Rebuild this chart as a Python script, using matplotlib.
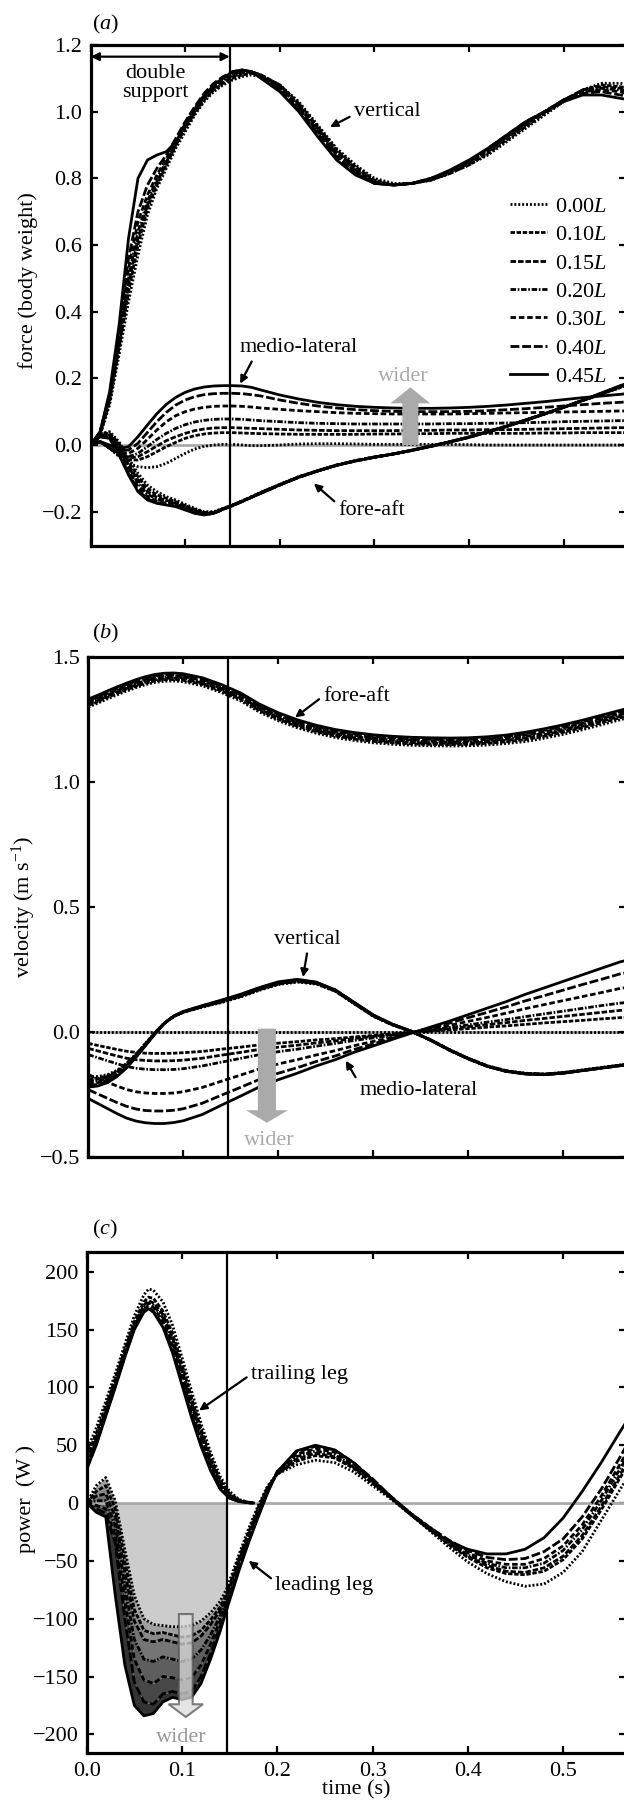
import numpy as np
import matplotlib
matplotlib.use('Agg')
import matplotlib.pyplot as plt
from matplotlib.patches import FancyArrow

plt.rcParams['font.family'] = ['Liberation Serif', 'DejaVu Serif']
plt.rcParams['mathtext.fontset'] = 'custom'
plt.rcParams['mathtext.rm'] = 'Liberation Serif'
plt.rcParams['mathtext.it'] = 'Liberation Serif:italic'

# step widths (fraction of leg length)
widths = ['0.00', '0.10', '0.15', '0.20', '0.30', '0.40', '0.45']
ds_end = 0.147  # end of double support (s)

# ---- (a) ground reaction force, body weight
t_a = [0, .01, .02, .03, .04, .05, .06, .07, .08, .09, .10, .11, .12, .13, .14, .15, .16, .17, .18,
       .20, .22, .24, .26, .28, .30, .32, .34, .36, .38, .40, .42, .44, .46, .48, .50, .52, .54, .56, .57]

force_vert = [
    [0, .03, .12, .27, .43, .57, .69, .77, .83, .89, .94, .99, 1.03, 1.06, 1.08, 1.095, 1.105, 1.11, 1.105,
     1.08, 1.03, .96, .89, .84, .80, .785, .785, .795, .815, .84, .87, .91, .95, .99, 1.03, 1.065, 1.085, 1.085, 1.08],
    [0, .03, .13, .29, .46, .60, .71, .78, .84, .90, .95, .995, 1.035, 1.065, 1.085, 1.10, 1.11, 1.115, 1.11,
     1.08, 1.025, .955, .885, .835, .795, .78, .785, .795, .815, .84, .875, .915, .955, .995, 1.03, 1.065, 1.08, 1.075, 1.07],
    [0, .035, .14, .30, .48, .62, .72, .79, .845, .90, .955, 1.0, 1.04, 1.07, 1.09, 1.105, 1.115, 1.12, 1.11,
     1.08, 1.02, .95, .88, .83, .79, .78, .785, .795, .815, .845, .88, .92, .96, 1.0, 1.035, 1.065, 1.075, 1.07, 1.065],
    [0, .035, .14, .31, .50, .64, .73, .80, .85, .905, .96, 1.005, 1.045, 1.075, 1.095, 1.11, 1.12, 1.12, 1.11,
     1.075, 1.015, .945, .875, .825, .79, .78, .785, .795, .82, .85, .885, .925, .965, 1.0, 1.035, 1.06, 1.07, 1.065, 1.06],
    [0, .04, .15, .33, .53, .67, .75, .81, .86, .91, .965, 1.01, 1.05, 1.08, 1.10, 1.115, 1.12, 1.12, 1.105,
     1.07, 1.01, .94, .87, .82, .785, .78, .785, .80, .82, .85, .885, .925, .965, 1.0, 1.035, 1.06, 1.065, 1.06, 1.05],
    [0, .04, .15, .34, .56, .70, .78, .83, .87, .92, .97, 1.015, 1.055, 1.085, 1.105, 1.12, 1.125, 1.12, 1.105,
     1.065, 1.005, .935, .865, .815, .785, .78, .785, .80, .82, .85, .89, .93, .97, 1.0, 1.035, 1.055, 1.06, 1.05, 1.045],
    [0, .04, .16, .36, .62, .80, .855, .87, .88, .91, .96, 1.005, 1.045, 1.08, 1.10, 1.12, 1.125, 1.12, 1.10,
     1.06, 1.0, .925, .855, .81, .785, .78, .785, .80, .825, .855, .89, .93, .97, 1.0, 1.03, 1.05, 1.05, 1.04, 1.035],
]

force_fore = [
    [0, .035, .04, .01, -.04, -.085, -.12, -.14, -.155, -.165, -.178, -.19, -.2, -.2, -.19, -.18, -.168, -.155, -.142,
     -.118, -.095, -.077, -.06, -.047, -.036, -.027, -.015, -.003, .01, .024, .04, .057, .075, .094, .113, .133, .152, .172, .182],
    [0, .035, .035, .005, -.05, -.095, -.13, -.15, -.16, -.17, -.182, -.193, -.202, -.202, -.191, -.18, -.168, -.155, -.142,
     -.118, -.095, -.077, -.06, -.047, -.036, -.027, -.015, -.003, .01, .024, .04, .057, .075, .094, .113, .133, .153, .173, .183],
    [0, .03, .03, 0, -.06, -.105, -.14, -.157, -.166, -.174, -.185, -.196, -.204, -.203, -.191, -.18, -.168, -.156, -.143,
     -.119, -.096, -.077, -.06, -.047, -.036, -.027, -.015, -.003, .01, .024, .04, .057, .075, .094, .113, .133, .153, .174, .184],
    [0, .03, .03, -.01, -.065, -.115, -.148, -.162, -.17, -.177, -.188, -.199, -.206, -.204, -.192, -.181, -.169, -.156, -.143,
     -.119, -.096, -.078, -.061, -.047, -.036, -.027, -.016, -.003, .01, .024, .04, .057, .075, .094, .113, .134, .154, .175, .185],
    [0, .03, .025, -.02, -.075, -.125, -.155, -.168, -.175, -.181, -.191, -.202, -.208, -.205, -.193, -.181, -.169, -.157, -.144,
     -.12, -.097, -.078, -.061, -.048, -.037, -.027, -.016, -.004, .009, .023, .039, .056, .074, .093, .113, .134, .155, .176, .186],
    [0, .025, .02, -.025, -.085, -.135, -.162, -.172, -.178, -.183, -.193, -.204, -.209, -.205, -.193, -.182, -.17, -.157, -.145,
     -.12, -.097, -.078, -.061, -.048, -.037, -.027, -.016, -.004, .009, .023, .039, .056, .074, .093, .113, .134, .155, .177, .187],
    [0, .025, .02, -.03, -.09, -.14, -.165, -.175, -.18, -.185, -.195, -.205, -.21, -.205, -.193, -.182, -.17, -.157, -.145,
     -.12, -.097, -.078, -.061, -.048, -.037, -.027, -.016, -.004, .009, .023, .039, .056, .074, .093, .113, .134, .156, .178, .188],
]

force_ml = [
    [0, .01, -.01, -.035, -.055, -.065, -.068, -.065, -.055, -.04, -.025, -.012, -.004, 0, .002, .002, 0, -.002, -.002,
     0, .003, .004, .004, .003, .002, .002, .002, .002, .002, .001, 0, 0, 0, 0, 0, 0, 0, 0, 0],
    [0, .01, -.01, -.03, -.045, -.045, -.035, -.02, -.005, .008, .02, .028, .033, .036, .037, .037, .036, .035, .034,
     .033, .032, .032, .032, .032, .033, .033, .034, .034, .035, .035, .035, .035, .035, .036, .036, .037, .037, .037, .037],
    [0, .01, -.01, -.03, -.04, -.035, -.02, -.003, .013, .025, .035, .043, .048, .051, .052, .052, .051, .05, .049,
     .047, .045, .044, .043, .043, .043, .043, .044, .044, .045, .045, .046, .046, .047, .048, .049, .05, .051, .052, .052],
    [0, .01, -.008, -.025, -.035, -.025, -.005, .017, .035, .05, .061, .069, .074, .077, .078, .078, .077, .075, .073,
     .07, .067, .065, .064, .063, .063, .063, .063, .063, .064, .064, .065, .066, .067, .068, .07, .071, .072, .073, .073],
    [0, .01, -.005, -.02, -.025, -.01, .017, .045, .07, .088, .1, .108, .113, .116, .117, .117, .116, .114, .111,
     .107, .103, .1, .097, .095, .094, .093, .093, .093, .093, .094, .095, .096, .097, .098, .099, .1, .101, .102, .102],
    [0, .01, -.003, -.015, -.015, .005, .038, .07, .098, .12, .135, .145, .151, .154, .155, .155, .154, .151, .147,
     .135, .125, .117, .111, .106, .103, .101, .1, .1, .1, .101, .103, .106, .109, .113, .117, .121, .125, .128, .13],
    [0, .01, 0, -.01, -.005, .025, .06, .094, .122, .143, .158, .168, .174, .177, .178, .178, .177, .173, .165,
     .15, .138, .128, .121, .116, .113, .111, .11, .11, .111, .113, .116, .12, .125, .13, .136, .142, .147, .152, .155],
]

# ---- (b) centre of mass velocity, m/s
t_b = [0, .01, .02, .03, .04, .05, .06, .07, .08, .09, .10, .12, .14, .16, .18, .20, .22, .24, .26, .28,
       .30, .32, .34, .36, .38, .40, .42, .44, .46, .48, .50, .52, .54, .56, .57]

vel_fore = [
    [1.299, 1.314, 1.331, 1.347, 1.362, 1.376, 1.388, 1.397, 1.402, 1.403, 1.400, 1.384, 1.357, 1.324, 1.279, 1.244, 1.216, 1.194,
     1.177, 1.165, 1.156, 1.150, 1.146, 1.144, 1.143, 1.144, 1.147, 1.153, 1.161, 1.174, 1.190, 1.208, 1.228, 1.248, 1.258],
    [1.305, 1.32, 1.337, 1.353, 1.368, 1.382, 1.394, 1.403, 1.408, 1.409, 1.406, 1.39, 1.363, 1.33, 1.285, 1.25, 1.222, 1.2,
     1.183, 1.171, 1.162, 1.156, 1.152, 1.15, 1.149, 1.15, 1.154, 1.16, 1.169, 1.182, 1.198, 1.216, 1.236, 1.256, 1.266],
    [1.31, 1.325, 1.342, 1.358, 1.373, 1.387, 1.399, 1.408, 1.413, 1.414, 1.411, 1.395, 1.368, 1.335, 1.29, 1.255, 1.227, 1.205,
     1.188, 1.176, 1.167, 1.161, 1.157, 1.155, 1.154, 1.155, 1.159, 1.166, 1.175, 1.188, 1.204, 1.222, 1.242, 1.262, 1.272],
    [1.315, 1.33, 1.347, 1.363, 1.378, 1.392, 1.404, 1.413, 1.418, 1.419, 1.416, 1.4, 1.373, 1.34, 1.295, 1.26, 1.232, 1.21,
     1.193, 1.181, 1.172, 1.166, 1.162, 1.16, 1.159, 1.16, 1.164, 1.171, 1.181, 1.194, 1.21, 1.228, 1.248, 1.268, 1.278],
    [1.32, 1.335, 1.352, 1.368, 1.383, 1.397, 1.409, 1.418, 1.423, 1.424, 1.421, 1.405, 1.378, 1.345, 1.3, 1.265, 1.237, 1.215,
     1.198, 1.186, 1.177, 1.171, 1.167, 1.165, 1.164, 1.165, 1.169, 1.176, 1.187, 1.2, 1.216, 1.234, 1.254, 1.274, 1.284],
    [1.325, 1.34, 1.357, 1.373, 1.388, 1.402, 1.414, 1.423, 1.428, 1.429, 1.426, 1.41, 1.383, 1.35, 1.305, 1.27, 1.242, 1.22,
     1.203, 1.191, 1.182, 1.176, 1.172, 1.17, 1.169, 1.17, 1.174, 1.181, 1.192, 1.206, 1.222, 1.24, 1.26, 1.28, 1.29],
    [1.331, 1.346, 1.363, 1.379, 1.394, 1.408, 1.42, 1.429, 1.434, 1.435, 1.432, 1.416, 1.389, 1.356, 1.311, 1.276, 1.248, 1.226,
     1.209, 1.197, 1.188, 1.182, 1.178, 1.176, 1.175, 1.176, 1.18, 1.187, 1.198, 1.212, 1.228, 1.246, 1.266, 1.286, 1.296],
]

vel_vert = [
    [-.18, -.177, -.17, -.153, -.125, -.088, -.045, -.002, .037, .063, .079, .1, .118, .14, .167, .19, .2, .192,
     .163, .113, .063, .029, .002, -.03, -.069, -.104, -.134, -.154, -.164, -.167, -.161, -.151, -.141, -.131, -.127],
    [-.187, -.183, -.175, -.157, -.128, -.09, -.047, -.003, .036, .063, .079, .101, .12, .142, .169, .192, .202, .194,
     .164, .114, .064, .029, .002, -.03, -.07, -.105, -.135, -.155, -.165, -.168, -.162, -.152, -.142, -.132, -.128],
    [-.193, -.188, -.179, -.16, -.131, -.092, -.048, -.004, .035, .063, .08, .102, .121, .144, .171, .194, .204, .195,
     .165, .115, .065, .03, .003, -.03, -.07, -.105, -.135, -.155, -.165, -.168, -.162, -.152, -.142, -.132, -.128],
    [-.2, -.195, -.185, -.165, -.135, -.095, -.05, -.005, .035, .063, .08, .103, .122, .145, .172, .195, .205, .196,
     .166, .116, .066, .031, .003, -.031, -.071, -.106, -.136, -.156, -.166, -.169, -.163, -.153, -.143, -.133, -.129],
    [-.207, -.202, -.191, -.17, -.139, -.098, -.052, -.006, .035, .064, .081, .104, .124, .147, .174, .197, .207, .197,
     .167, .117, .067, .031, .003, -.031, -.071, -.106, -.136, -.156, -.166, -.169, -.163, -.153, -.143, -.133, -.129],
    [-.213, -.209, -.197, -.175, -.142, -.1, -.054, -.007, .035, .064, .082, .105, .126, .149, .176, .199, .209, .198,
     .168, .118, .068, .032, .004, -.032, -.072, -.107, -.137, -.157, -.167, -.17, -.164, -.154, -.144, -.134, -.13],
    [-.22, -.215, -.202, -.178, -.144, -.101, -.055, -.008, .035, .065, .083, .106, .128, .151, .178, .201, .211, .2,
     .169, .119, .069, .032, .004, -.032, -.072, -.107, -.137, -.157, -.167, -.17, -.164, -.154, -.144, -.134, -.13],
]

vel_ml = [
    [0] * 35,
    [-.045, -.053, -.061, -.069, -.076, -.081, -.084, -.085, -.085, -.084, -.082, -.077, -.068, -.06, -.051, -.044, -.038, -.031,
     -.026, -.019, -.013, -.007, -.001, .004, .009, .014, .02, .025, .031, .037, .042, .047, .053, .058, .06],
    [-.065, -.075, -.085, -.095, -.104, -.11, -.113, -.115, -.115, -.114, -.112, -.104, -.092, -.081, -.069, -.06, -.052, -.043,
     -.035, -.025, -.017, -.009, -.001, .006, .014, .022, .03, .038, .047, .055, .063, .071, .079, .087, .09],
    [-.09, -.102, -.114, -.126, -.137, -.144, -.148, -.15, -.15, -.149, -.146, -.135, -.12, -.105, -.09, -.078, -.068, -.056,
     -.045, -.033, -.023, -.012, -.002, .008, .018, .029, .04, .05, .062, .073, .084, .095, .106, .116, .12],
    [-.17, -.185, -.2, -.215, -.229, -.238, -.243, -.245, -.245, -.243, -.238, -.221, -.196, -.172, -.147, -.127, -.11, -.091,
     -.074, -.054, -.037, -.02, -.002, .013, .027, .043, .059, .076, .094, .11, .126, .142, .158, .175, .18],
    [-.23, -.247, -.264, -.281, -.296, -.307, -.313, -.315, -.315, -.312, -.306, -.284, -.252, -.221, -.189, -.164, -.142, -.117,
     -.095, -.069, -.047, -.025, -.003, .017, .036, .058, .079, .101, .125, .146, .168, .19, .211, .233, .24],
    [-.265, -.285, -.305, -.325, -.343, -.355, -.362, -.365, -.365, -.361, -.354, -.329, -.292, -.256, -.219, -.19, -.164, -.135,
     -.11, -.08, -.055, -.029, -.004, .02, .044, .07, .096, .122, .151, .177, .203, .229, .255, .281, .29],
]

# ---- (c) leg power, W
t_trail = [0, .01, .02, .03, .04, .05, .06, .065, .07, .08, .09, .10, .11, .12, .13, .14, .15, .16, .17, .175]
power_trail = [
    [45, 65, 88, 112, 137, 162, 180, 185, 184, 174, 154, 126, 97, 69, 44, 23, 10, 3, .6, 0],
    [40, 60, 84, 108, 133, 157, 174, 178, 177, 166, 147, 120, 91, 64, 40, 20, 8, 2.5, .5, 0],
    [37, 57, 81, 106, 131, 155, 171, 175, 173, 163, 143, 116, 87, 61, 37, 18, 7, 2, .4, 0],
    [35, 55, 79, 104, 129, 153, 169, 173, 171, 160, 140, 113, 84, 58, 35, 16, 6, 1.8, .3, 0],
    [33, 53, 77, 102, 128, 152, 167, 171, 169, 157, 137, 109, 80, 54, 32, 14, 5, 1.6, .3, 0],
    [30, 51, 76, 101, 127, 151, 166, 169, 166, 154, 133, 105, 77, 51, 30, 13, 4.5, 1.4, .3, 0],
    [29, 50, 75, 100, 126, 150, 165, 168, 165, 152, 130, 102, 74, 49, 28, 12, 4, 1.2, .2, 0],
]

t_lead = [0, .01, .02, .03, .04, .05, .06, .07, .08, .09, .10, .11, .12, .13, .14, .147, .16, .17, .18, .19, .20,
          .22, .24, .26, .28, .30, .32, .34, .36, .38, .40, .42, .44, .46, .48, .50, .52, .54, .56, .57]
power_lead = [
    [0, 15, 22, 2, -40, -80, -100, -105, -106, -107, -107, -106, -102, -95, -85, -74, -44, -22, -2, 15, 25,
     33, 37, 35, 27, 15, 3, -10, -24, -38, -51, -61, -68, -72, -70, -60, -42, -15, 12, 25],
    [0, 10, 15, -5, -50, -92, -110, -113, -112, -114, -116, -115, -110, -101, -90, -78, -47, -25, -4, 14, 25,
     36, 41, 39, 30, 17, 4, -10, -23, -36, -47, -56, -61, -62, -59, -49, -31, -6, 22, 36],
    [0, 6, 8, -12, -60, -102, -118, -120, -118, -120, -122, -121, -115, -105, -93, -80, -49, -27, -6, 13, 25,
     38, 43, 40, 31, 18, 4, -9, -22, -35, -46, -54, -59, -60, -56, -46, -28, -3, 25, 40],
    [0, 2, 2, -20, -72, -118, -135, -137, -133, -135, -137, -135, -127, -114, -98, -83, -51, -29, -8, 12, 26,
     40, 45, 42, 32, 19, 5, -9, -22, -34, -45, -52, -56, -56, -52, -41, -23, 2, 30, 44],
    [0, -2, -5, -28, -85, -135, -153, -156, -150, -151, -153, -151, -140, -122, -102, -86, -54, -31, -10, 11, 27,
     42, 47, 44, 34, 20, 5, -9, -21, -33, -43, -50, -53, -53, -48, -37, -19, 6, 34, 48],
    [0, -5, -9, -35, -100, -155, -172, -174, -165, -163, -165, -163, -150, -130, -107, -89, -56, -33, -11, 10, 27,
     44, 49, 46, 35, 21, 5, -9, -21, -32, -41, -47, -49, -48, -42, -31, -12, 12, 40, 55],
    [0, -8, -12, -80, -140, -175, -184, -182, -172, -168, -170, -168, -156, -135, -111, -92, -58, -34, -12, 9, 27,
     45, 50, 46, 35, 20, 4, -10, -23, -33, -40, -44, -44, -40, -30, -13, 10, 35, 62, 75],
]
fill_greys = ['#a0a0a0', '#8a8a8a', '#757575', '#5e5e5e', '#474747', '#333333']

# line styles, one per width
dashes = [(0, (0.7, 0.7)), (0, (1.6, 0.6)), (0, (2.0, 0.7)), (0, (2.0, 0.6, 0.6, 0.6)),
          (0, (2.0, 1.0)), (0, (3.2, 1.0)), '-']
LW = 2.0
FS = 16
W, H = 624, 1807


def setup_axes(rect, ylim, yticks, xlabels):
    ax = fig.add_axes(rect)
    ax.set_xlim(0, 0.566)
    ax.set_ylim(*ylim)
    ax.set_xticks(np.arange(0, 0.55, 0.1))
    ax.set_yticks(yticks)
    ax.tick_params(direction='in', top=True, right=True, length=5, width=1.6,
                   labelsize=FS, pad=6, labelbottom=xlabels)
    for s in ax.spines.values():
        s.set_linewidth(2.3)
    ax.axvline(ds_end, color='k', lw=1.6, zorder=4)
    return ax


def px_rect(left, top, bottom, right=626):
    return [left / W, 1 - bottom / H, (right - left) / W, (bottom - top) / H]


def note(ax, text, xy, xytext, rel, ha='left'):
    ax.annotate(text, xy=xy, xytext=xytext, fontsize=FS, ha=ha, va='center',
                arrowprops=dict(arrowstyle='-|>', color='k', lw=1.6, mutation_scale=11,
                                shrinkA=1, shrinkB=0, relpos=rel), zorder=6)


fig = plt.figure(figsize=(W / 100, H / 100), dpi=100)

# ---------------- (a)
ax = setup_axes(px_rect(90.7, 45, 546), (-0.303, 1.2), np.arange(-0.2, 1.21, 0.2), False)
ax.axhline(0, color='#aaaaaa', lw=2, zorder=1)
for i in range(len(widths)):
    ax.plot(t_a, force_vert[i], color='k', lw=LW, linestyle=dashes[i], label=widths[i] + '$L$', zorder=3)
    ax.plot(t_a, force_fore[i], color='k', lw=LW, linestyle=dashes[i], zorder=3)
    ax.plot(t_a, force_ml[i], color='k', lw=LW, linestyle=dashes[i], zorder=3)
ax.add_patch(FancyArrow(0.338, 0.0, 0, 0.173, width=0.017, head_width=0.042, head_length=0.048,
                        length_includes_head=True, fc='#aaaaaa', ec='none', zorder=4))
ax.text(0.331, 0.205, 'wider', color='#aaaaaa', fontsize=FS, ha='center', va='center')
ax.annotate('', xy=(0.0, 1.165), xytext=(ds_end, 1.165),
            arrowprops=dict(arrowstyle='<|-|>', color='k', lw=1.6, mutation_scale=12, shrinkA=0, shrinkB=0))
ax.text(0.068, 1.086, 'double\nsupport', fontsize=FS, ha='center', va='center', linespacing=1.0)
note(ax, 'vertical', (0.253, 0.954), (0.278, 1.002), (0, 0.3))
note(ax, 'medio-lateral', (0.158, 0.184), (0.220, 0.291), (0.12, 0), ha='center')
note(ax, 'fore-aft', (0.236, -0.1155), (0.2616, -0.196), (0, 0.8))
ax.legend(loc='upper right', bbox_to_anchor=(0.9645, 0.698), frameon=False, fontsize=FS,
          handlelength=1.65, handletextpad=0.35, labelspacing=0.35, borderpad=0, borderaxespad=0)
ax.set_ylabel('force (body weight)', fontsize=FS)
ax.yaxis.set_label_coords(-0.0985, 0.53)
fig.text(92 / W, 1 - 24 / H, '($a$)', fontsize=FS, ha='left', va='center')

# ---------------- (b)
ax = setup_axes(px_rect(88.3, 656.7, 1157.3), (-0.5, 1.5), [-0.5, 0.0, 0.5, 1.0, 1.5], False)
ax.axhline(0, color='#aaaaaa', lw=2, zorder=1)
for i in range(len(widths)):
    ax.plot(t_b, vel_fore[i], color='k', lw=LW, linestyle=dashes[i], zorder=3)
    ax.plot(t_b, vel_vert[i], color='k', lw=LW, linestyle=dashes[i], zorder=3)
    ax.plot(t_b, vel_ml[i], color='k', lw=LW, linestyle=dashes[i], zorder=3)
ax.add_patch(FancyArrow(0.188, 0.014, 0, -0.376, width=0.019, head_width=0.044, head_length=0.05,
                        length_includes_head=True, fc='#aaaaaa', ec='none', zorder=4))
ax.text(0.19, -0.433, 'wider', color='#aaaaaa', fontsize=FS, ha='center', va='center')
note(ax, 'fore-aft', (0.2176, 1.257), (0.247, 1.342), (0, 0.5))
note(ax, 'vertical', (0.226, 0.22), (0.231, 0.369), (0.5, 0), ha='center')
note(ax, 'medio-lateral', (0.271, -0.114), (0.285, -0.234), (0, 0.9))
ax.set_ylabel('velocity (m s$^{-1}$)', fontsize=FS)
ax.yaxis.set_label_coords(-0.0935, 0.5)
fig.text(92 / W, 1 - 633 / H, '($b$)', fontsize=FS, ha='left', va='center')

# ---------------- (c)
ax = setup_axes(px_rect(86.7, 1251.7, 1753.3), (-216.4, 217.3), np.arange(-200, 201, 50), True)
tl = np.array(t_lead)
during = tl <= ds_end + 1e-9
ax.fill_between(tl, np.minimum(power_lead[0], 0), 0, where=during, color='#cccccc', lw=0, zorder=1)
for i in range(1, len(widths)):
    ax.fill_between(tl, power_lead[i], power_lead[i - 1], where=during, color=fill_greys[i - 1], lw=0, zorder=1)
ax.axhline(0, color='#aaaaaa', lw=2, zorder=2)
for i in range(len(widths)):
    ax.plot(t_trail, power_trail[i], color='k', lw=LW, linestyle=dashes[i], zorder=3)
    ax.plot(t_lead, power_lead[i], color='k', lw=LW, linestyle=dashes[i], zorder=3)
ax.add_patch(FancyArrow(0.104, -96, 0, -89, width=0.0145, head_width=0.036, head_length=11,
                        length_includes_head=True, fc='#dddddd', ec='#555555', lw=1.5, alpha=0.75, zorder=5))
ax.text(0.099, -203, 'wider', color='#999999', fontsize=FS, ha='center', va='center')
note(ax, 'trailing leg', (0.118, 80), (0.172, 111), (0, 0.5))
note(ax, 'leading leg', (0.170, -50), (0.1975, -71), (0, 0.7))
ax.set_ylabel('power  (W )', fontsize=FS)
ax.yaxis.set_label_coords(-0.094, 0.507)
ax.set_xlabel('time (s)', fontsize=FS, labelpad=0)
fig.text(92 / W, 1 - 1229 / H, '($c$)', fontsize=FS, ha='left', va='center')

fig.savefig('out.png', dpi=100)
